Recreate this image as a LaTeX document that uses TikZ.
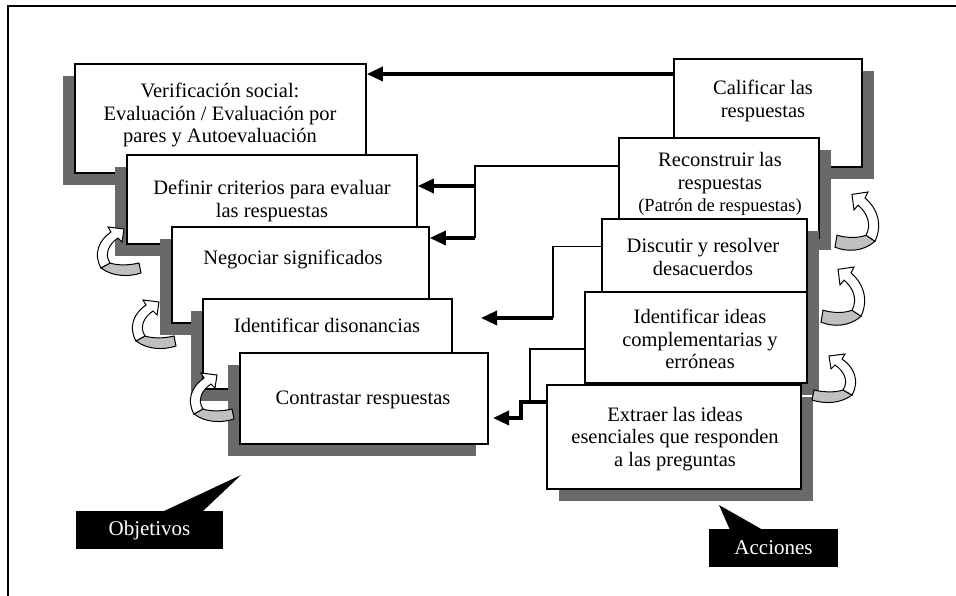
\documentclass[tikz,border=0pt]{standalone}
\usepackage{fontspec}
\setmainfont{Liberation Serif}
\usetikzlibrary{arrows.meta,shadows}
\definecolor{shadowgray}{RGB}{105,105,105}
\definecolor{ribbongray}{RGB}{192,192,192}
\begin{document}
\begin{tikzpicture}[x=1pt,y=-1pt,
  box/.style={draw=black, line width=1.6pt, fill=white, inner sep=0pt},
  lshadow/.style={drop shadow={shadow xshift=-12pt, shadow yshift=-12pt, fill=shadowgray, opacity=1}},
  rshadow/.style={drop shadow={shadow xshift=12pt, shadow yshift=-12pt, fill=shadowgray, opacity=1}},
  lbl/.style={font=\fontsize{20.5}{22.5}\selectfont, align=center, inner sep=0pt},
  thinline/.style={line width=1.6pt},
  thickarrow/.style={line width=3.4pt, -{Triangle[length=16pt,width=14pt]}},
  callout/.style={fill=black, text=white, font=\fontsize{21}{22}\selectfont, minimum width=147pt, minimum height=38pt, inner sep=0pt},
  turnarrow/.pic={
    \filldraw[fill=ribbongray, draw=black, line width=1pt] (21,41) .. controls (30,44) and (42,43) .. (50,41) -- (52,51) .. controls (40,55) and (24,55) .. (12,46) -- cycle;
    \filldraw[fill=white, draw=black, line width=1pt] (35,7) -- (33,20) -- (29,16) .. controls (20,22) and (15,32) .. (21,41) -- (12,46) .. controls (4,32) and (10,18) .. (22,10) -- (19,5) -- cycle;
  }
]
\useasboundingbox (0,0) rectangle (956,596);
\draw[line width=2.5pt] (8,596) -- (8,6) -- (956,6);

% left stack (objectives)
\node[box, lshadow, minimum width=291pt, minimum height=109pt] (verif) at (220.5,118.5) {};
\node[lbl] (veriftxt) at (220,115) {Verificación social:\\Evaluación / Evaluación por\\pares y Autoevaluación};
\node[box, lshadow, minimum width=290pt, minimum height=89pt] (defin) at (272,199.5) {};
\node[lbl] (defintxt) at (272,201) {Definir criterios para evaluar\\las respuestas};
\node[box, lshadow, minimum width=257pt, minimum height=96pt] (nego) at (300.5,275) {};
\node[lbl] (negotxt) at (293,259) {Negociar significados};
\node[box, lshadow, minimum width=249pt, minimum height=90pt] (idis) at (327.5,344) {};
\node[lbl] (idistxt) at (327,325) {Identificar disonancias};
\node[box, lshadow, minimum width=248pt, minimum height=91pt] (contr) at (364,398.5) {};
\node[lbl] (contrtxt) at (363,400) {Contrastar respuestas};

% right stack (actions)
\node[box, rshadow, minimum width=188pt, minimum height=108pt] (cal) at (768,113) {};
\node[lbl] (caltxt) at (763,101) {Calificar las\\respuestas};
\node[box, rshadow, minimum width=200pt, minimum height=100pt] (recon) at (719,188) {};
\node[lbl] (recontxt) at (720,184) {Reconstruir las\\respuestas\\{\fontsize{18.5}{22.5}\selectfont (Patrón de respuestas)}};
\node[box, rshadow, minimum width=205pt, minimum height=82pt] (disc) at (704.5,260) {};
\node[lbl] (disctxt) at (703,257) {Discutir y resolver\\desacuerdos};
\node[box, rshadow, minimum width=222pt, minimum height=91pt] (idea) at (696,337.5) {};
\node[lbl] (ideatxt) at (700,339) {Identificar ideas\\complementarias y\\erróneas};
\node[box, rshadow, minimum width=254pt, minimum height=104pt] (extr) at (674,437) {};
\node[lbl] (extrtxt) at (675,439) {Extraer las ideas\\esenciales que responden\\a las preguntas};

% connectors
\coordinate (c1) at ([yshift=39pt]cal.west);
\draw[thickarrow] (c1) -- (c1 -| verif.east);

\coordinate (c2) at ([yshift=22pt]recon.west);
\coordinate (j1) at (475,238);
\draw[thinline] (c2) -| (j1);
\coordinate (d1) at ([yshift=13.5pt]defin.east);
\draw[thickarrow] (d1 -| j1) -- (d1);
\draw[thickarrow] (j1) -- (j1 -| nego.east);

\coordinate (c3) at ([yshift=13.5pt]disc.west);
\coordinate (j2) at (553,318);
\coordinate (t2) at (481,318);
\draw[thinline] (c3) -| (j2);
\draw[thickarrow] (j2) -- (t2);

\coordinate (c4) at ([yshift=-11.5pt]idea.west);
\coordinate (j4) at (530,402);
\draw[thinline] (c4) -| (j4);
\coordinate (c5) at ([yshift=35pt]extr.west);
\coordinate (j3) at (521,418);
\coordinate (t3) at (493,418);
\draw[thickarrow] (c5) -| (j3) -- (t3);

% turn arrows
\pic at (89,222) {turnarrow};
\pic at (124,295) {turnarrow};
\pic at (182,368) {turnarrow};
\pic[xscale=-1, yscale=1.2] at (887,186) {turnarrow};
\pic[xscale=-1, yscale=1.2] at (873,261) {turnarrow};
\pic[xscale=-1] at (864,349) {turnarrow};

% callouts
\node[callout] (obj) at (149.5,530) {Objetivos};
\fill (162,512) -- (241,475) -- (202,512) -- cycle;
\node[callout, minimum width=129pt] (acc) at (773.5,548) {Acciones};
\fill (730,530) -- (719,505) -- (763,530) -- cycle;
\end{tikzpicture}
\end{document}
